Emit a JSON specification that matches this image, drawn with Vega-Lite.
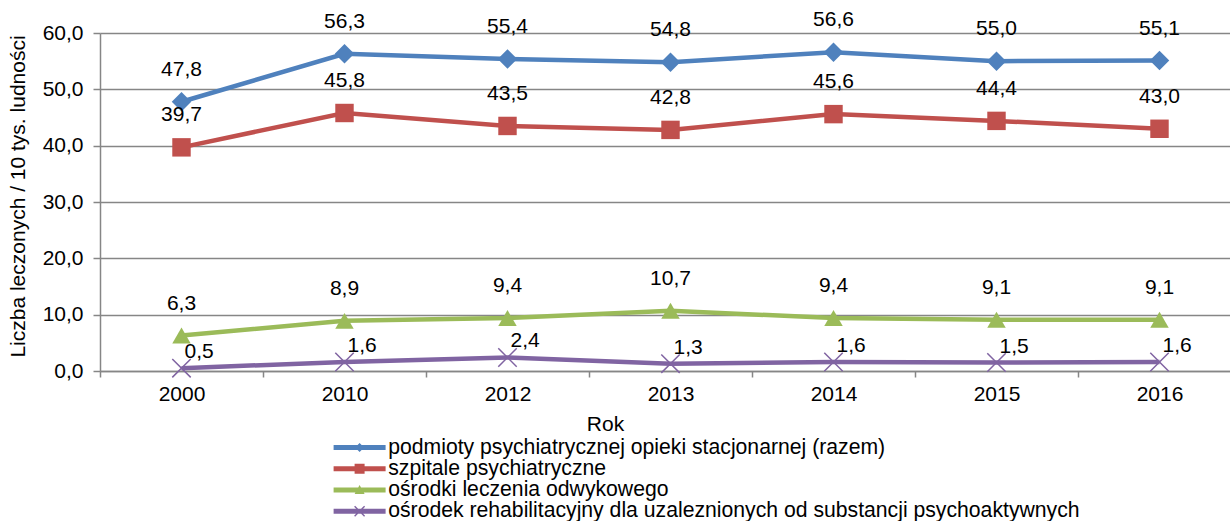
{
  "$schema": "https://vega.github.io/schema/vega-lite/v6.json",
  "autosize": {"type": "none"},
  "width": 1141,
  "height": 338,
  "padding": {"left": 100, "top": 33, "right": 0, "bottom": 150},
  "config": {
    "locale": {"number": {"decimal": ",", "thousands": " ", "grouping": [3], "currency": ["", " zł"]}},
    "view": {"stroke": null},
    "font": "Liberation Sans",
    "axis": {"labelFont": "Liberation Sans", "titleFont": "Liberation Sans", "labelColor": "#000000", "titleColor": "#000000", "labelFontSize": 21, "titleFontSize": 21, "titleFontWeight": "normal"},
    "legend": {"labelFont": "Liberation Sans"}
  },
  "data": {"values": [
    {"year": "2000", "series": "podmioty psychiatrycznej opieki stacjonarnej (razem)", "value": 47.8},
    {"year": "2010", "series": "podmioty psychiatrycznej opieki stacjonarnej (razem)", "value": 56.3},
    {"year": "2012", "series": "podmioty psychiatrycznej opieki stacjonarnej (razem)", "value": 55.4},
    {"year": "2013", "series": "podmioty psychiatrycznej opieki stacjonarnej (razem)", "value": 54.8},
    {"year": "2014", "series": "podmioty psychiatrycznej opieki stacjonarnej (razem)", "value": 56.6},
    {"year": "2015", "series": "podmioty psychiatrycznej opieki stacjonarnej (razem)", "value": 55.0},
    {"year": "2016", "series": "podmioty psychiatrycznej opieki stacjonarnej (razem)", "value": 55.1},
    {"year": "2000", "series": "szpitale psychiatryczne", "value": 39.7},
    {"year": "2010", "series": "szpitale psychiatryczne", "value": 45.8},
    {"year": "2012", "series": "szpitale psychiatryczne", "value": 43.5},
    {"year": "2013", "series": "szpitale psychiatryczne", "value": 42.8},
    {"year": "2014", "series": "szpitale psychiatryczne", "value": 45.6},
    {"year": "2015", "series": "szpitale psychiatryczne", "value": 44.4},
    {"year": "2016", "series": "szpitale psychiatryczne", "value": 43.0},
    {"year": "2000", "series": "ośrodki leczenia odwykowego", "value": 6.3},
    {"year": "2010", "series": "ośrodki leczenia odwykowego", "value": 8.9},
    {"year": "2012", "series": "ośrodki leczenia odwykowego", "value": 9.4},
    {"year": "2013", "series": "ośrodki leczenia odwykowego", "value": 10.7},
    {"year": "2014", "series": "ośrodki leczenia odwykowego", "value": 9.4},
    {"year": "2015", "series": "ośrodki leczenia odwykowego", "value": 9.1},
    {"year": "2016", "series": "ośrodki leczenia odwykowego", "value": 9.1},
    {"year": "2000", "series": "ośrodek rehabilitacyjny dla uzaleznionych od substancji psychoaktywnych", "value": 0.5},
    {"year": "2010", "series": "ośrodek rehabilitacyjny dla uzaleznionych od substancji psychoaktywnych", "value": 1.6},
    {"year": "2012", "series": "ośrodek rehabilitacyjny dla uzaleznionych od substancji psychoaktywnych", "value": 2.4},
    {"year": "2013", "series": "ośrodek rehabilitacyjny dla uzaleznionych od substancji psychoaktywnych", "value": 1.3},
    {"year": "2014", "series": "ośrodek rehabilitacyjny dla uzaleznionych od substancji psychoaktywnych", "value": 1.6},
    {"year": "2015", "series": "ośrodek rehabilitacyjny dla uzaleznionych od substancji psychoaktywnych", "value": 1.5},
    {"year": "2016", "series": "ośrodek rehabilitacyjny dla uzaleznionych od substancji psychoaktywnych", "value": 1.6}
  ]},
  "encoding": {
    "x": {
      "field": "year", "type": "ordinal",
      "scale": {"type": "band", "paddingInner": 0, "paddingOuter": 0},
      "axis": {"title": "Rok", "labelAngle": 0, "tickBand": "extent", "tickSize": 6, "tickColor": "#868686", "tickWidth": 1.5, "domainColor": "#868686", "domainWidth": 1.5, "labelPadding": 6, "titleX": 505, "titleY": 59, "titleBaseline": "alphabetic", "titleAnchor": "middle", "grid": false}
    },
    "y": {
      "field": "value", "type": "quantitative",
      "scale": {"domain": [0, 60], "nice": false, "zero": true},
      "axis": {"title": "Liczba leczonych / 10 tys. ludności", "values": [0, 10, 20, 30, 40, 50, 60], "format": ".1f", "grid": true, "gridColor": "#868686", "gridWidth": 1.5, "tickSize": 7, "tickColor": "#868686", "tickWidth": 1.5, "domainColor": "#868686", "domainWidth": 1.5, "labelPadding": 10, "titleX": -82, "titleY": 163, "titleBaseline": "middle", "titleAnchor": "middle"}
    }
  },
  "layer": [
    {
      "mark": {"type": "line", "strokeWidth": 4.5},
      "encoding": {
        "color": {
          "field": "series", "type": "nominal",
          "scale": {
            "domain": ["podmioty psychiatrycznej opieki stacjonarnej (razem)", "szpitale psychiatryczne", "ośrodki leczenia odwykowego", "ośrodek rehabilitacyjny dla uzaleznionych od substancji psychoaktywnych"],
            "range": ["#4F81BD", "#C0504D", "#9BBB59", "#8064A2"]
          },
          "legend": {
            "title": null, "orient": "none", "legendX": 263, "legendY": 404, "direction": "vertical",
            "labelFontSize": 21.2, "labelColor": "#000000", "labelLimit": 0, "labelOffset": 4,
            "symbolSize": 100, "symbolStrokeWidth": 0, "rowPadding": -0.8,
            "encode": {
              "symbols": {"update": {
                "shape": {"signal": "datum.value === 'szpitale psychiatryczne' ? 'M-8,-0.5H2.4V0.5H-8Z M-3.8,-1H-1.8V1H-3.8Z' : datum.value === 'ośrodki leczenia odwykowego' ? 'M-8,-0.5H2.4V0.5H-8Z M-2.8,-1L-1.8,0.8L-3.8,0.8Z' : datum.value === 'podmioty psychiatrycznej opieki stacjonarnej (razem)' ? 'M-8,-0.5H2.4V0.5H-8Z M-2.8,-0.9L-1.9,0L-2.8,0.9L-3.7,0Z' : 'M-8,-0.5H2.4V0.5H-8Z M-3.9,-0.9L-3.7,-1.1L-1.7,0.9L-1.9,1.1Z M-3.9,0.9L-1.9,-1.1L-1.7,-0.9L-3.7,1.1Z'"},
                "fill": {"signal": "scale('color', datum.value)"},
                "fillOpacity": {"value": 1},
                "opacity": {"value": 1},
                "strokeWidth": {"value": 0}
              }}
            }
          }
        }
      }
    },
    {
      "transform": [{"filter": "datum.series === 'podmioty psychiatrycznej opieki stacjonarnej (razem)'"}],
      "mark": {"type": "point", "shape": "diamond", "filled": true, "opacity": 1, "size": 380, "color": "#4F81BD"}
    },
    {
      "transform": [{"filter": "datum.series === 'szpitale psychiatryczne'"}],
      "mark": {"type": "point", "shape": "square", "filled": true, "opacity": 1, "size": 340, "color": "#C0504D"}
    },
    {
      "transform": [{"filter": "datum.series === 'ośrodki leczenia odwykowego'"}],
      "mark": {"type": "point", "shape": "triangle-up", "filled": true, "opacity": 1, "size": 340, "color": "#9BBB59"}
    },
    {
      "transform": [{"filter": "datum.series === 'ośrodek rehabilitacyjny dla uzaleznionych od substancji psychoaktywnych'"}],
      "mark": {"type": "point", "shape": "M-1,-1L1,1M-1,1L1,-1", "filled": false, "opacity": 1, "size": 340, "strokeWidth": 1.5, "color": "#8064A2"}
    },
    {
      "transform": [{"filter": "datum.series !== 'ośrodek rehabilitacyjny dla uzaleznionych od substancji psychoaktywnych'"}],
      "mark": {"type": "text", "fontSize": 21, "font": "Liberation Sans", "color": "#000000", "align": "center", "baseline": "alphabetic", "dy": -26},
      "encoding": {"text": {"field": "value", "type": "quantitative", "format": ".1f"}}
    },
    {
      "transform": [{"filter": "datum.series === 'ośrodek rehabilitacyjny dla uzaleznionych od substancji psychoaktywnych'"}],
      "mark": {"type": "text", "fontSize": 21, "font": "Liberation Sans", "color": "#000000", "align": "left", "baseline": "alphabetic", "dx": 3, "dy": -10},
      "encoding": {"text": {"field": "value", "type": "quantitative", "format": ".1f"}}
    }
  ]
}
